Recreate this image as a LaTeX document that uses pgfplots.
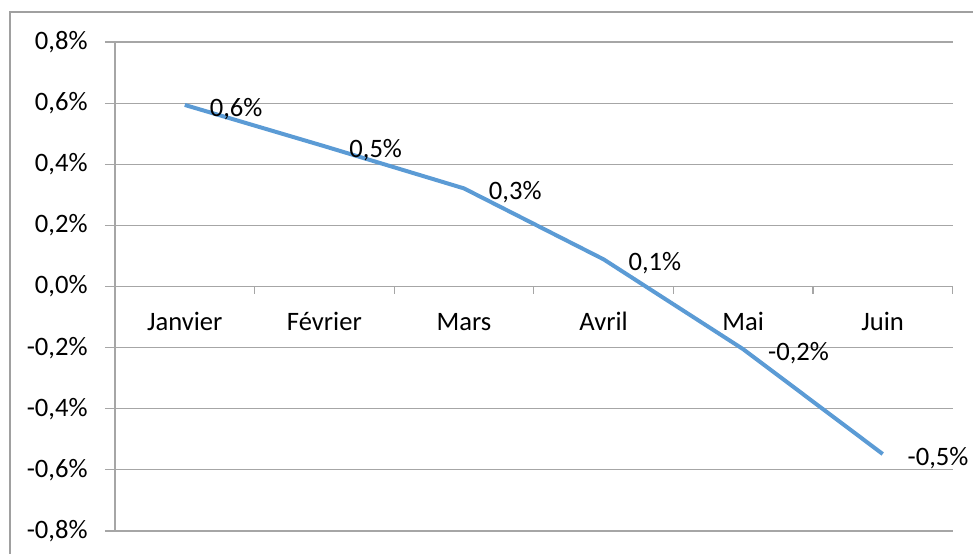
\documentclass[border=0pt]{standalone}
\usepackage{pgfplots}
\pgfplotsset{compat=1.18}
\usepackage{fontspec}
\setmainfont{Carlito}
\definecolor{gridgray}{HTML}{A6A6A6}
\definecolor{framegray}{HTML}{A0A0A0}
\definecolor{lineblue}{HTML}{5B9BD5}
\begin{document}
\fontsize{13.3pt}{15pt}\selectfont
\begin{tikzpicture}
\path[use as bounding box] (0,0) rectangle (486.5pt,277pt);
\draw[framegray, line width=0.6pt] (5pt,0) -- (5pt,271pt) -- (486.5pt,271pt);
\begin{axis}[
  at={(57.5pt,11.5pt)}, anchor=south west,
  scale only axis, width=418.75pt, height=244.5pt,
  xmin=-0.5, xmax=5.5, ymin=-0.8, ymax=0.8,
  axis x line=middle, axis y line=left,
  axis line style={-, draw=gridgray, line width=0.6pt},
  ytick={-0.8,-0.6,-0.4,-0.2,0,0.2,0.4,0.6,0.8},
  yticklabels={-0{,}8\%,-0{,}6\%,-0{,}4\%,-0{,}2\%,0{,}0\%,0{,}2\%,0{,}4\%,0{,}6\%,0{,}8\%},
  ymajorgrids, grid style={gridgray, line width=0.6pt},
  xtick={0,1,2,3,4,5},
  xticklabels={Janvier,Février,Mars,Avril,Mai,Juin},
  minor xtick={-0.5,0.5,1.5,2.5,3.5,4.5,5.5},
  tick align=outside,
  major tick length=5pt, minor tick length=3.5pt,
  major x tick style={draw=none},
  minor x tick style={draw=gridgray, line width=0.6pt},
  major y tick style={draw=gridgray, line width=0.6pt},
  yticklabel style={inner sep=0pt, anchor=east, xshift=-8.5pt, font=\fontsize{13.3pt}{15pt}\selectfont},
  xticklabel style={inner sep=0pt, anchor=north, yshift=-8pt, text height=9pt, text depth=0pt, font=\fontsize{13.3pt}{15pt}\selectfont},
  clip=false,
]
\addplot[lineblue, line width=2pt, mark=none,
  nodes near coords, point meta=explicit symbolic,
  every node near coord/.style={anchor=mid west, inner sep=0pt, xshift=11.5pt, yshift=-2.5pt, font=\fontsize{13.3pt}{15pt}\selectfont, text=black}]
  coordinates {
  (0,0.594) [0,6\%]
  (1,0.459) [0,5\%]
  (2,0.321) [0,3\%]
  (3,0.089) [0,1\%]
  (4,-0.205) [-0,2\%]
  (5,-0.548) [-0,5\%]
  };
\end{axis}
\end{tikzpicture}
\end{document}
